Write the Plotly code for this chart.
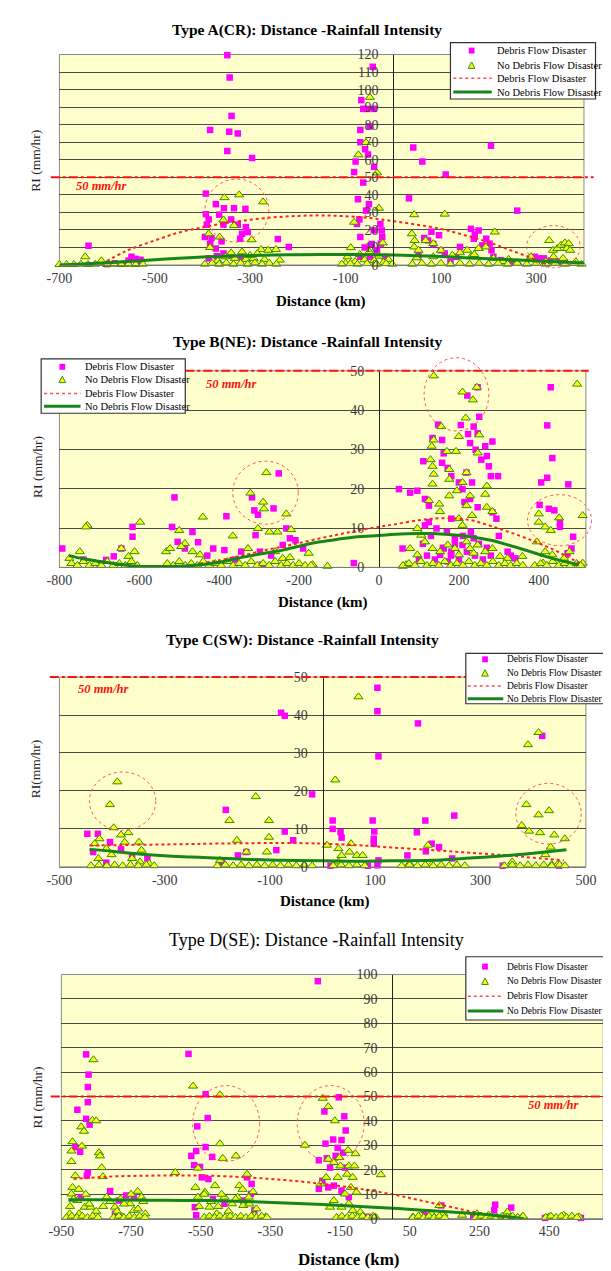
import plotly.graph_objects as go

W, H = 611, 1271

# ======================= DATA =======================
THRESHOLD = 50  # mm/hr

# ---------- Type A (CR) ----------
A_debris = [(-348,119.6),(-343,106.9),(-339,85),(-384,77),(-344,76),(-326,75),(-348,65),(-296,61),
    (-67,94),(-63,89),(-43,113),(-41,89),(-55,89),(-69,77),(-49,79),(-69,70),(-59,66),(-53,63),(-79,59),(-40,56),(-82,53),(-63,47),
    (42,67),(61,59),(110,51.6),(205,68),(33,38),(260,31),
    (-393,40.7),(-372,34.7),(-355,32.4),(-334,32.4),(-310,32),(-393,29),(-387,26),(-365,28.7),(-340,26),(-391,23),
    (-356,23),(-326,23),(-309,21.6),(-305,18.8),(-317,17.8),(-395,16),(-381,15.4),(-360,13.5),(-321,15),(-242,14.8),
    (-219,10.3),(-384,12.2),(-372,9.4),(-387,3.8),(-356,6.6),(-370,5),(-340,5.5),(-320,4.5),
    (-639,11),(-549,4.7),(-540,3.5),(-530,3),(-555,2.5),(-529,1.9),(-584,1),(-600,0.5),(-560,0.8),
    (-76,23.4),(-71,26),(-57,31),(-51,34.7),(-74,37.5),(-69,16),(-41,19.7),(-27,23.4),(-24,19.7),(-23,16),
    (-26,12.2),(-34,8.4),(-49,4.7),(-69,4.7),(-18,4.7),(-60,10),(-45,12),
    (65,15.4),(73,14),(80,19),(96,17),(84,12),(100,8.4),(108,6.6),(132,4.7),(140,10.3),(163,20.6),
    (171,17.4),(179,19.7),(169,15),(195,15),(202,12.2),(187,11.2),(206,8.4),(210,4.7),(226,2.8),(297,4.7),
    (305,3.8),(316,3.8),(53,5.6),(330,2.5),(345,2),(360,1.5),(120,2),(250,1.5)]
A_nodebris = [(-646,4.7),(-612,2.4),(-387,17.8),(-354,38.4),(-323,40),(-273,36),(-356,25.7),(-334,22.5),(-364,16),(-384,10),
    (-297,14.4),(-277,8.8),(-317,7.5),(-285,6.6),(-262,8.4),(-246,8.8),(-352,4.7),(-332,3.8),(-309,3.2),(-293,3.8),
    (-270,3.2),(-238,2.8),(-368,2.4),(-300,5.5),(-340,7),
    (-49,95.6),(-57,69.8),(-73,62.8),(-34,52.5),(-30,32.4),(-82,24.4),(-22,12.6),(-89,9.9),(-96,4.7),(-70,6),
    (-50,7.5),(-30,5),(-10,3),(-80,2),(-60,3),(-40,2.5),(-20,1.5),(-100,1),
    (44,28.7),(108,29),(213,18.8),(39,17.8),(45,14),(44,10.3),(53,8.4),(68,14),(84,12.2),(100,8.4),
    (49,4.1),(84,4.7),(124,5.6),(155,8.4),(179,9.4),(194,10.3),(163,4.7),(210,3.8),(242,3.2),(289,4.7),
    (327,14),(335,8.4),(344,9.4),(352,11.3),(360,12.6),(368,12.2),(364,9.4),(371,8.4),(336,4.7),(356,3.8),
    (383,1.9),(140,7),(170,6),(230,2),(260,1.5),(320,2),
    (-700,0.3),(-685,0.3),(-670,0.3),(-655,0.5),(-640,0.3),(-625,0.5),(-600,0.3),(-585,0.5),(-570,0.3),(-555,0.5),
    (-540,0.3),(-525,0.5),
    (-395,0.5),(-380,1),(-365,0.5),(-350,1.2),(-335,0.5),(-320,1),(-305,0.5),(-290,1.2),(-275,0.5),(-260,1),(-245,0.5),
    (-108,0.5),(-90,0.8),(-75,0.5),(-55,0.8),(-35,0.5),(-15,0.8),(-2,0.5),
    (40,0.5),(60,1),(80,0.5),(100,1),(120,0.5),(140,1),(160,0.5),(180,1),(200,0.5),(220,1),
    (240,0.5),(260,1),(280,0.5),(300,1),(320,0.5),(340,1),(360,0.5),(380,1),(395,0.5)]
A_trend_df_x = [-612,-560,-500,-450,-400,-350,-300,-250,-200,-150,-100,-50,0,50,100,150,200,250,300,320]
A_trend_df_y = [0.5,8,14,18.5,21.5,24,25.8,27.2,28,28.3,27.8,26.8,25,23,20.6,17,13,8,3,0.5]
A_trend_nd_x = [-700,-650,-600,-550,-500,-450,-400,-350,-300,-250,-200,-150,-100,-50,0,50,100,150,200,250,300,350,400]
A_trend_nd_y = [0,0.6,1.3,2.2,3,3.8,4.5,5,5.4,5.7,5.9,6,6,5.9,5.7,5.3,4.8,4.2,3.6,3,2.3,1.7,1.2]
A_xticks = [-700,-500,-300,-100,100,300]

# ---------- Type B (NE) ----------
B_debris = [(-793,4.8),(-617,7.8),(-617,10.3),(-645,4.8),(-664,2.8),(-683,1.9),(-740,2),(-700,1),
    (-512,17.8),(-518,10.3),(-504,6.5),(-486,4.8),(-467,9),(-453,6.4),(-415,4.8),(-387,4.4),(-382,13),(-345,4),
    (-318,17.8),(-312,14.5),(-303,13.4),(-309,8.2),(-298,4),(-293,0.7),(-264,15),(-251,23.9),(-232,9.9),(-223,7.4),
    (-241,5.7),(-209,6.9),(-190,4.8),(-63,1.1),(-430,3),(-360,2),(-270,3),
    (50,19.9),(78,19),(96,19.5),(111,27),(115,17.4),(125,15.7),(134,32.9),(148,36.3),(158,32.4),(162,29),
    (158,26.6),(172,25.3),(181,23.2),(200,21.6),(205,36.2),(223,33.9),(237,35.8),(247,34.1),(251,38.3),(221,43.7),
    (247,45.8),(228,31.6),(242,29.9),(256,27.4),(270,28.3),(284,32),(280,23.2),(298,23.2),(275,25.7),(266,30.8),
    (233,21.6),(219,24.1),(209,19.9),(214,16.6),(228,17.4),(247,15.3),(284,14),(294,12.4),(125,11.5),(144,9.9),
    (181,12.4),(162,4.8),(153,3.2),(181,4),(209,5.7),(237,7.4),(190,7.4),(172,1.5),(59,4.8),(115,10.7),
    (322,4),(341,2.3),(100,2),(110,6),(120,3),(130,8),(140,2),(160,5),(170,9),(180,3),(190,6),(200,2),
    (210,8),(220,4),(230,9),(240,3),(250,6),(260,2),(270,5),(280,3),(300,8),(330,3),
    (430,45.8),(421,36.1),(434,27.8),(421,22.8),(406,21.6),(474,21.1),(402,15.9),(425,14.9),(439,14.5),(453,11.5),
    (453,10.3),(486,7.8),(482,4.8),(472,3.6),(500,0.7)]
B_nodebris = [(-775,2.3),(-749,4),(-730,10.7),(-734,10.3),(-645,4.8),(-598,11.5),(-612,4),(-627,2.8),
    (-533,4),(-523,4.8),(-500,9.4),(-486,6.1),(-495,5.3),(-467,4),(-448,3.2),(-441,12.8),(-366,8),(-328,4.8),
    (-322,18.9),(-290,16.6),(-288,14.9),(-282,24.1),(-303,9.9),(-274,9),(-260,4),(-254,9),(-232,13.6),(-220,9.6),
    (-241,2.3),(-223,2.5),(-176,3.6),(-129,0.3),(-166,0.7),
    (137,48.7),(209,44.6),(235,42.6),(245,45.8),(217,38),(156,35.8),(137,32.4),(132,30.8),(170,29.5),(193,29.5),
    (200,33.3),(251,33.7),(247,29.1),(129,27.4),(134,25.7),(137,23.7),(134,21.2),(176,24.9),(176,22.4),(176,18.2),
    (195,19.5),(125,17),(151,16.1),(153,14.2),(209,21.6),(219,24.1),(228,18.2),(219,15.7),(233,13.2),(270,20.7),
    (266,18.6),(270,15.3),(284,14.2),(200,12.4),(209,10.7),(96,9.9),(106,8.2),(115,6.5),(134,4.8),(153,4),
    (172,5.7),(190,4.8),(200,3.2),(219,6.5),(228,4.8),(237,3.6),(247,5.7),(266,4),(284,4.8),(303,2.8),
    (322,2.3),(359,2.8),(68,0.7),(78,4.8),(96,3.2),(59,0.3),
    (400,13.6),(400,11.5),(416,10.3),(430,9.4),(451,12.6),(496,46.6),(510,13.2),(395,6.5),(416,4),(434,3.2),
    (463,2.3),(477,4),(411,1.1),(510,1.1),(491,0.5),
    (-770,1),(-755,0.5),(-740,1.5),(-725,0.5),(-710,1),(-695,0.5),(-680,1.5),(-665,0.5),(-650,1),(-635,0.5),
    (-620,1.5),(-605,0.5),
    (-530,1),(-515,0.5),(-500,1.5),(-485,0.5),(-470,1),(-455,0.5),(-440,1.5),(-425,0.5),(-410,1),(-395,0.5),
    (-380,1.5),(-365,0.5),(-350,1),(-335,0.5),(-320,1.5),(-305,0.5),(-290,1),(-275,0.5),(-260,1.5),(-245,0.5),
    (-230,1),(-215,0.5),(-200,1),(-185,0.5),(-170,0.5),
    (60,0.5),(75,1),(90,0.5),(105,1.5),(120,0.5),(135,1),(150,0.5),(165,1.5),(180,0.5),(195,1),
    (210,0.5),(225,1.5),(240,0.5),(255,1),(270,0.5),(285,1.5),(300,0.5),(315,1),(330,0.5),(345,1),(360,0.5),
    (390,0.5),(405,1),(420,0.5),(435,1.5),(450,0.5),(465,1),(480,0.5),(495,1),(505,0.5)]
B_trend_df_x = [-448,-400,-335,-280,-241,-200,-147,-100,-53,0,41,100,135,181,230,275,320,369,420,463,501]
B_trend_df_y = [1.0,1.8,3.2,4.5,5.3,6.2,7.4,8.4,9.4,10.3,11,12,12.4,12.5,12,10.7,9.2,7.4,5.3,3.2,1.1]
B_trend_nd_x = [-776,-740,-700,-650,-607,-550,-500,-450,-400,-373,-320,-280,-241,-200,-147,-100,-53,0,41,100,135,180,229,280,323,370,417,460,501]
B_trend_nd_y = [3,2.2,1.5,0.8,0.3,0.2,0.3,0.6,1.3,1.9,3,3.7,4.4,5.4,6.5,7.2,7.8,8.1,8.4,8.6,8.6,8.3,7.8,6.9,5.7,4.3,2.8,1.6,0.7]
B_xticks = [-800,-600,-400,-200,0,200,400]

# ---------- Type C (SW) ----------
C_debris = [(-447,8.7),(-427,8.7),(-436,3.9),(-411,1.1),(-404,6.5),(-383,4.6),(-362,3),(-333,2.2),
    (-184,15),(-191,1.1),(-161,3),(-145,3.9),(-79,40.6),(-72,39.8),(-72,9.3),(-56,7),(-88,4.4),(-20,19.1),
    (19,12.2),(19,10),(34,9.1),(36,7.7),(15,0.3),(104,47.2),(104,41),(106,29.1),(95,12.2),(98,9.3),(97,7.4),
    (97,6.1),(106,1.7),(86,0.3),(104,0.4),(181,37.8),(195,12.2),(179,9.1),(207,6.1),(221,5.2),(161,3),(196,4.1),
    (250,13.5),(246,2.2),(417,34.5),(342,0.3),(449,0.3)]
C_nodebris = [(-390,22.4),(-404,16.4),(-397,10.3),(-383,8.4),(-369,9),(-424,7.4),(-433,6.1),(-411,4.8),(-401,3.2),
    (-376,6.5),(-349,6.5),(-344,4.4),(-362,2.2),(-347,1.3),(-330,0.9),(-426,2.2),
    (-127,18.5),(-177,12.2),(-102,12.2),(-102,7.8),(-106,3.9),(-163,7),(-145,3.9),(-195,1.7),
    (24,22.9),(68,44.8),(8,5.7),(30,4.8),(36,3),(54,6.1),(51,3.9),(65,3),(76,3),(30,1.3),
    (165,0.9),(200,5.7),(207,0.6),
    (387,16.4),(410,13.7),(430,14.8),(390,32.2),(410,35.4),(378,10.9),(392,9.4),(413,9),(440,8.4),(460,7.4),
    (433,5.2),(423,3.2),(360,1.3),(435,0.6),(446,0.6),
    (-440,0.3),(-425,0.5),(-410,0.3),(-395,0.5),(-380,0.3),(-365,0.5),(-350,0.3),(-335,0.5),(-320,0.3),
    (-200,0.3),(-185,0.5),(-170,0.3),(-155,0.5),(-140,0.3),(-125,0.5),(-110,0.3),(-95,0.5),(-80,0.3),(-65,0.5),
    (-50,0.3),(-35,0.5),(-20,0.3),
    (20,0.3),(35,0.5),(50,0.3),(65,0.5),(80,0.3),
    (150,0.3),(165,0.5),(180,0.3),(195,0.5),(210,0.3),(225,0.5),(240,0.3),(255,0.5),(270,0.3),
    (345,0.3),(360,0.5),(375,0.3),(390,0.5),(405,0.3),(420,0.5),(435,0.3),(450,0.5),(460,0.3)]
C_trend_df_x = [-443,-400,-350,-300,-250,-217,-150,-100,-75,-25,0,67,130,209,280,352,400,458]
C_trend_df_y = [5.6,5.7,5.8,5.9,6,6.1,6.2,6.3,6.3,6.2,6.1,5.7,5.1,4.4,3.7,3,2.4,1.7]
C_trend_nd_x = [-443,-400,-360,-300,-250,-217,-150,-75,0,67,130,209,280,352,400,463]
C_trend_nd_y = [4.6,4.1,3.5,2.9,2.6,2.4,2,1.7,1.6,1.5,1.6,1.7,2.3,3,3.6,4.5]
C_xticks = [-500,-300,-100,100,300,500]

# ---------- Type D (SE) ----------
D_debris = [(-879,67.3),(-872,59),(-874,53.9),(-874,47.7),(-904,44.6),(-879,40.9),(-869,38.5),(-896,27.4),(-910,29.3),
    (-874,18.9),(-877,17.6),(-894,8.8),(-810,11.3),(-764,9.5),(-742,8.8),(-785,7.4),(-796,2),
    (-585,67.5),(-536,51),(-530,41.2),(-560,37.8),(-536,29.3),(-563,27.7),(-577,25.7),(-569,21.9),(-552,21.2),
    (-517,25.3),(-547,16.9),(-528,16.2),(-567,4.7),(-563,1.4),(-515,8.1),(-482,6.1),(-417,16.9),(-404,14.2),
    (-406,10.1),(-396,3.4),(-428,7.4),
    (-214,97.3),(-154,49.7),(-195,43.9),(-138,41.9),(-134,36.1),(-170,32.4),(-146,32.2),(-192,30.7),(-157,29),
    (-141,27),(-188,24.7),(-211,23.9),(-179,20.9),(-163,25.7),(-136,20.9),(-201,15.5),(-184,12.8),(-211,12.2),
    (-168,13.5),(-146,11.5),(-125,8.8),(-71,0.7),
    (92,2),(140,5.4),(295,5.7),(292,3.4),(341,4.5),(232,0.7),(438,0.3),(541,0.3)]
D_nodebris = [(-858,65.1),(-918,31.5),(-921,27.7),(-921,23.4),(-893,37.6),(-885,35.8),(-891,29.7),(-861,40.3),
    (-850,40.1),(-842,27),(-839,25.7),(-834,20.9),(-831,17.2),(-910,17.6),(-918,12.8),(-921,10.1),(-904,7.4),
    (-883,4.7),(-866,4.7),(-899,2),(-926,2),(-820,8.8),(-796,4.7),(-780,8.1),(-753,6.1),(-731,11.2),(-720,8.8),
    (-742,3.4),(-774,0.7),(-709,2),(-925,5),(-915,8),(-900,12),(-880,10),(-870,6),(-850,3),(-830,5),(-810,7),
    (-790,3),(-770,6),(-750,10),(-730,4),(-715,7),
    (-623,18.9),(-572,54.3),(-495,50.7),(-495,30.7),(-487,24.7),(-449,25.7),(-558,20.7),(-565,12.8),(-558,8.8),
    (-538,10.8),(-509,13.5),(-482,8.8),(-460,6.1),(-525,4.7),(-504,2),(-444,8.8),(-439,13.5),(-417,18.2),
    (-412,8.8),(-428,5.4),(-396,1.4),(-363,0.7),(-555,5),(-540,10),(-520,7),(-500,5),(-490,10),(-470,3),
    (-450,8),(-430,12),(-410,6),(-400,11),(-390,4),
    (-251,30.1),(-200,49.3),(-184,45.9),(-165,40.1),(-190,16.9),(-206,14.2),(-184,24.3),(-168,23),(-152,25),
    (-149,21.6),(-127,28),(-106,26.6),(-125,21.6),(-109,21.6),(-130,18.2),(-114,16.9),(-157,16.9),(-119,12.8),
    (-103,10.8),(-136,10.1),(-168,7.4),(-179,4.7),(-146,4.7),(-125,6.1),(-114,3.4),(-92,2.7),(-33,18),(-49,0.7),
    (135,5.4),(146,2),(113,2),(81,1.4),(59,0.7),(200,1.4),(243,2),(276,1.4),(330,2.7),(341,0.7),(373,0.7),
    (449,0.7),(492,1.4),(536,0.7),
    (-935,0.5),(-920,1),(-905,0.5),(-890,1),(-875,0.5),(-860,1),(-845,0.5),
    (-800,0.5),(-785,1),(-770,0.5),(-755,1),(-740,0.5),(-725,1),(-710,0.5),
    (-540,0.5),(-525,1),(-510,0.5),(-495,1),(-480,0.5),(-465,1),(-450,0.5),(-435,1),(-420,0.5),(-405,1),
    (-390,0.5),(-375,1),(-360,0.5),
    (-160,0.5),(-145,1),(-130,0.5),(-115,1),(-100,0.5),(-85,1),(-70,0.5),(-55,1),
    (60,0.5),(75,1),(90,0.5),(105,1),(120,0.5),(135,1),(150,0.5),
    (240,0.5),(255,1),(270,0.5),(285,1),(300,0.5),(315,1),(330,0.5),(345,1),(360,0.5),(375,1),
    (440,0.5),(455,1),(470,0.5),(485,1),(500,0.5),(515,1),(530,0.5)]
D_trend_df_x = [-915,-850,-797,-700,-600,-525,-417,-308,-200,-92,16,70,125,180,233,290,342]
D_trend_df_y = [16.2,16.9,17.3,17.6,17.7,17.6,16.9,15.8,14.2,12.2,9.5,7.8,6.1,4.4,2.7,1.2,0]
D_trend_nd_x = [-930,-850,-750,-650,-525,-417,-308,-200,-92,16,125,200,288,376]
D_trend_nd_y = [7.7,7.7,7.6,7.5,7.4,7,6.4,5.8,5,4.1,3.1,2.4,1.4,0]
D_xticks = [-950,-750,-550,-350,-150,50,250,450]

# highlighted (dotted circle) regions: centre x, centre y, half-width (km), half-height (mm/hr)
A_circles = [(-328, 31, 67, 18), (336, 10.5, 56, 12)]
B_circles = [(-284, 19, 82, 8), (194, 44, 81, 9.3), (452, 12, 80, 6.5)]
C_circles = [(-380, 17.3, 63, 7.7), (429, 14, 62, 8)]
D_circles = [(-477, 39, 96, 15.5), (-177, 39, 96, 15.5)]

LEG_DF = "Debris Flow Disaster"
LEG_ND = "No Debris Flow Disaster"

# ======================= STYLE / LAYOUT =======================
SERIF = "Liberation Serif, Times New Roman, serif"
MAGENTA = "#FF00FF"
TRI_FILL = "#F2FF1A"
TRI_LINE = "#3C8C00"
RED = "#FF2020"
GREEN = "#16861A"

panels = [
    dict(title="Type A(CR): Distance -Rainfall Intensity", ytitle="RI (mm/hr)",
         debris=A_debris, nodebris=A_nodebris,
         tdx=A_trend_df_x, tdy=A_trend_df_y, tnx=A_trend_nd_x, tny=A_trend_nd_y,
         xticks=A_xticks, xr=[-700, 400], yr=[0, 120], circles=A_circles,
         box=(40, 40, 586, 253), title_xy=(298, 15), title_size=15.5, title_bold=True,
         xt_xy=(312, 290), yt_xy=(15, 147), thr_px=(31, 596), lab_xy=(55, 173),
         leg=dict(box=(447, 28, 598, 85), gx=469, rows=[36, 51, 64, 78], lx=(450, 490), tx=493, fs=10.5)),
    dict(title="Type B(NE): Distance -Rainfall Intensity", ytitle="RI (mm/hr)",
         debris=B_debris, nodebris=B_nodebris,
         tdx=B_trend_df_x, tdy=B_trend_df_y, tnx=B_trend_nd_x, tny=B_trend_nd_y,
         xticks=B_xticks, xr=[-800, 518], yr=[0, 50], circles=B_circles,
         box=(40, 360, 588, 559), title_xy=(298, 331), title_size=15.5, title_bold=True,
         xt_xy=(314, 595), yt_xy=(17, 457), thr_px=(171, 591), lab_xy=(191, 373),
         leg=dict(box=(21, 348, 171, 403), gx=43, rows=[356, 369, 383, 396], lx=(24, 62), tx=65, fs=10.5)),
    dict(title="Type C(SW): Distance -Rainfall Intensity", ytitle="RI(mm/hr)",
         debris=C_debris, nodebris=C_nodebris,
         tdx=C_trend_df_x, tdy=C_trend_df_y, tnx=C_trend_nd_x, tny=C_trend_nd_y,
         xticks=C_xticks, xr=[-500, 500], yr=[0, 50], circles=C_circles,
         box=(40, 670, 588, 862), title_xy=(293, 632), title_size=15.5, title_bold=True,
         xt_xy=(316, 897), yt_xy=(16, 763), thr_px=(30, 463), lab_xy=(57, 682),
         leg=dict(box=(463, 646, 613, 697), gx=483, rows=[652, 666, 679, 692], lx=(465, 502), tx=504, fs=9.5)),
    dict(title="Type D(SE): Distance -Rainfall Intensity", ytitle="RI (mm/hr)",
         debris=D_debris, nodebris=D_nodebris,
         tdx=D_trend_df_x, tdy=D_trend_df_y, tnx=D_trend_nd_x, tny=D_trend_nd_y,
         xticks=D_xticks, xr=[-950, 605], yr=[0, 100], circles=D_circles,
         box=(42, 971, 606, 1218), title_xy=(308, 937), title_size=18, title_bold=False,
         xt_xy=(341, 1259), yt_xy=(17, 1095), thr_px=(31, 611), lab_xy=(526, 1103),
         leg=dict(box=(463, 953, 613, 1017), gx=483, rows=[963, 978, 993, 1008], lx=(465, 502), tx=504, fs=9.5)),
]


def fx(px):
    return px / W


def fy(py):
    return 1 - py / H


fig = go.Figure()
shapes = []
annotations = []
layout = {}

for i, p in enumerate(panels, start=1):
    sfx = "" if i == 1 else str(i)
    xa, ya = "x" + sfx, "y" + sfx
    x0, y0, x1, y1 = p["box"]
    xr, yr = p["xr"], p["yr"]

    # scatter points
    dx, dy = zip(*p["debris"])
    nx, ny = zip(*p["nodebris"])
    fig.add_trace(go.Scatter(x=dx, y=dy, mode="markers", name=LEG_DF, showlegend=False,
                             xaxis=xa, yaxis=ya, cliponaxis=False,
                             marker=dict(symbol="square", size=6.5, color=MAGENTA, line=dict(width=0))))
    fig.add_trace(go.Scatter(x=nx, y=ny, mode="markers", name=LEG_ND, showlegend=False,
                             xaxis=xa, yaxis=ya, cliponaxis=False,
                             marker=dict(symbol="triangle-up", size=8, color=TRI_FILL,
                                         line=dict(width=1, color=TRI_LINE))))
    fig.add_trace(go.Scatter(x=p["tdx"], y=p["tdy"], mode="lines", name=LEG_DF, showlegend=False,
                             xaxis=xa, yaxis=ya, line=dict(color=RED, width=2, dash="dot", shape="spline")))
    fig.add_trace(go.Scatter(x=p["tnx"], y=p["tny"], mode="lines", name=LEG_ND, showlegend=False,
                             xaxis=xa, yaxis=ya, line=dict(color=GREEN, width=3, shape="spline")))

    # axes
    ypos = fx(x0 + (0 - xr[0]) / (xr[1] - xr[0]) * (x1 - x0))
    layout["xaxis" + sfx] = dict(domain=[fx(x0), fx(x1)], range=xr, anchor=ya,
                                 tickmode="array", tickvals=p["xticks"],
                                 ticktext=[str(v) for v in p["xticks"]],
                                 showgrid=False, zeroline=False, showline=True, linecolor="#7a7a7a",
                                 linewidth=1, ticks="", fixedrange=True,
                                 tickfont=dict(family=SERIF, size=14, color="#3a3a3a"))
    layout["yaxis" + sfx] = dict(domain=[fy(y1), fy(y0)], range=yr, anchor="free", position=ypos,
                                 tick0=0, dtick=10, showgrid=True, gridcolor="#4a4a4a", gridwidth=1.3,
                                 zeroline=False, showline=True, linecolor="#202020", linewidth=1,
                                 ticks="", ticklabelstandoff=12, fixedrange=True,
                                 tickfont=dict(family=SERIF, size=14, color="#3a3a3a"))

    # plot-area border
    shapes.append(dict(type="rect", xref=xa + " domain", yref=ya + " domain", x0=0, x1=1, y0=0, y1=1,
                       line=dict(color="#8a8a8a", width=1), layer="below"))

    # 50 mm/hr threshold line
    thr_f = (THRESHOLD - yr[0]) / (yr[1] - yr[0])
    shapes.append(dict(type="line", xref="paper", yref=ya + " domain",
                       x0=fx(p["thr_px"][0]), x1=fx(p["thr_px"][1]), y0=thr_f, y1=thr_f,
                       line=dict(color="#FF1010", width=2, dash="dashdot")))

    # dotted circles
    for (cx, cy, rx, ry) in p["circles"]:
        shapes.append(dict(type="circle", xref=xa + " domain", yref=ya + " domain",
                           x0=(cx - rx - xr[0]) / (xr[1] - xr[0]), x1=(cx + rx - xr[0]) / (xr[1] - xr[0]),
                           y0=(cy - ry - yr[0]) / (yr[1] - yr[0]), y1=(cy + ry - yr[0]) / (yr[1] - yr[0]),
                           line=dict(color="#FF5050", width=1, dash="dot")))

    # texts
    t = p["title"]
    annotations.append(dict(text=f"<b>{t}</b>" if p["title_bold"] else t, xref="paper", yref="paper",
                            x=fx(p["title_xy"][0]), y=fy(p["title_xy"][1]), showarrow=False,
                            xanchor="center", yanchor="middle",
                            font=dict(family=SERIF, size=p["title_size"], color="black")))
    annotations.append(dict(text="<b>Distance (km)</b>", xref="paper", yref="paper",
                            x=fx(p["xt_xy"][0]), y=fy(p["xt_xy"][1]), showarrow=False,
                            xanchor="center", yanchor="middle",
                            font=dict(family=SERIF, size=15 if i < 4 else 17, color="black")))
    annotations.append(dict(text=p["ytitle"], xref="paper", yref="paper", textangle=-90,
                            x=fx(p["yt_xy"][0]), y=fy(p["yt_xy"][1]), showarrow=False,
                            xanchor="center", yanchor="middle",
                            font=dict(family=SERIF, size=13.5, color="#222")))
    annotations.append(dict(text=f"<b><i>{THRESHOLD} mm/hr</i></b>", xref="paper", yref="paper",
                            x=fx(p["lab_xy"][0]), y=fy(p["lab_xy"][1]), showarrow=False,
                            xanchor="left", yanchor="middle",
                            font=dict(family=SERIF, size=12.5, color="#FF1010")))

    # legend box (drawn manually for compact item spacing)
    lg = p["leg"]
    bx0, by0, bx1, by1 = lg["box"]
    shapes.append(dict(type="rect", xref="paper", yref="paper", x0=fx(bx0), x1=fx(bx1), y0=fy(by1), y1=fy(by0),
                       fillcolor="white", line=dict(color="#333", width=1.2)))
    r0, r1, r2, r3 = lg["rows"]
    gx = lg["gx"]
    shapes.append(dict(type="rect", xref="paper", yref="paper", x0=fx(gx - 3), x1=fx(gx + 3),
                       y0=fy(r0 + 3), y1=fy(r0 - 3), fillcolor=MAGENTA, line=dict(width=0)))
    shapes.append(dict(type="path", xref="paper", yref="paper",
                       path=f"M {fx(gx - 3.5)},{fy(r1 + 3)} L {fx(gx + 3.5)},{fy(r1 + 3)} L {fx(gx)},{fy(r1 - 3.5)} Z",
                       fillcolor=TRI_FILL, line=dict(color=TRI_LINE, width=1)))
    shapes.append(dict(type="line", xref="paper", yref="paper", x0=fx(lg["lx"][0]), x1=fx(lg["lx"][1]),
                       y0=fy(r2), y1=fy(r2), line=dict(color="#FF5050", width=1.5, dash="dot")))
    shapes.append(dict(type="line", xref="paper", yref="paper", x0=fx(lg["lx"][0]), x1=fx(lg["lx"][1]),
                       y0=fy(r3), y1=fy(r3), line=dict(color=GREEN, width=3)))
    for txt, ry in zip([LEG_DF, LEG_ND, LEG_DF, LEG_ND], lg["rows"]):
        annotations.append(dict(text=txt, xref="paper", yref="paper", x=fx(lg["tx"]), y=fy(ry),
                                showarrow=False, xanchor="left", yanchor="middle",
                                font=dict(family=SERIF, size=lg["fs"], color="black")))

fig.update_layout(width=W, height=H, autosize=False, margin=dict(l=0, r=0, t=0, b=0),
                  paper_bgcolor="white", plot_bgcolor="#FFFFCC", showlegend=False,
                  shapes=shapes, annotations=annotations, **layout)

fig.write_html("out.html")
